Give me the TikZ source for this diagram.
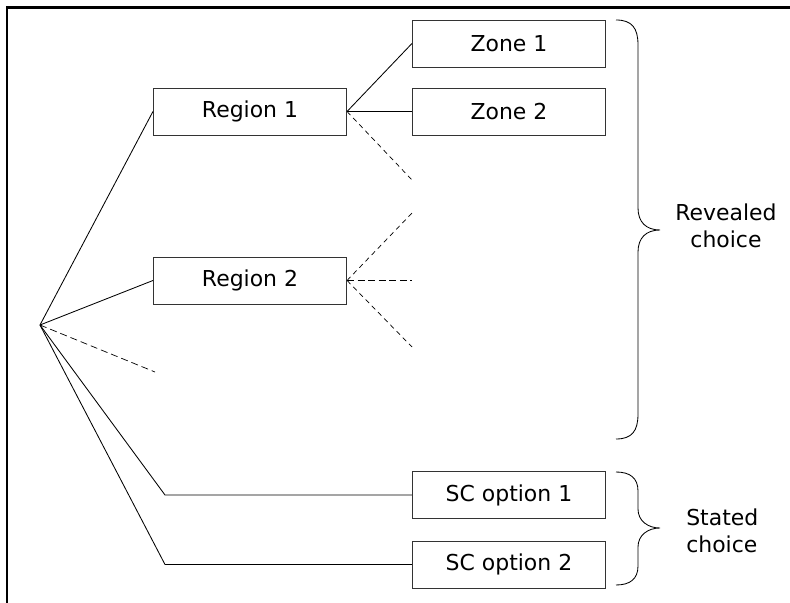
\documentclass[tikz,border=0pt]{standalone}
\usepackage{fontspec}
\setmainfont{DejaVu Sans}
\usetikzlibrary{arrows}

\begin{document}
\begin{tikzpicture}[x=0.025cm,y=-0.025cm,
  every node/.style={font=\fontsize{15.6}{19.2}\selectfont},
  box/.style={draw=black!80,line width=0.6pt,minimum width=4.83cm,minimum height=1.175cm,inner sep=0pt},
  branch/.style={line width=0.6pt},
  open/.style={line width=0.5pt,dash pattern=on 3.5pt off 2.8pt},
  brc/.style={line width=0.6pt}]
\useasboundingbox (0,0) rectangle (790,603);
\draw[line width=1.5pt] (7,603)--(7,7.5)--(790,7.5);

\coordinate (root) at (40,325);
\node[box] (Reg1) at (250,111.5) {Region 1};
\node[box] (Reg2) at (250,280.5) {Region 2};
\node[box] (Zn1) at (509,43.5) {Zone 1};
\node[box] (Zn2) at (509,111.5) {Zone 2};
\node[box] (SCa) at (509,495) {SC option 1};
\node[box] (SCb) at (509,564.5) {SC option 2};

\draw[branch] (root)--(Reg1.west);
\draw[branch] (root)--(Reg2.west);
\draw[open,dash pattern=on 5pt off 2.8pt] (root)--(155,372) coordinate (rootOpen);
\coordinate (bendA) at (165,495);
\coordinate (bendB) at (165,564.5);
\draw[branch] (root)--(bendA)--(SCa.west);
\draw[branch] (root)--(bendB)--(SCb.west);

\draw[branch] (Reg1.east)--(Zn1.west);
\draw[branch] (Reg1.east)--(Zn2.west);
\draw[open] (Reg1.east)--(412,180) coordinate (Reg1Open);
\draw[open] (Reg2.east)--(412,213) coordinate (Reg2OpenA);
\draw[open,line width=0.7pt,dash pattern=on 5pt off 2.5pt] (Reg2.east)--(412,280.5) coordinate (Reg2OpenB);
\draw[open] (Reg2.east)--(412,347) coordinate (Reg2OpenC);

\coordinate (revTop) at (616,20);
\draw[brc] (revTop) .. controls +(16,0) and +(0,-17) .. ++(22,25)
  -- ++(0,163)
  .. controls +(0,14) and +(-14,0) .. ++(22,22)
  .. controls +(-14,0) and +(0,-14) .. ++(-22,22)
  -- ++(0,162)
  .. controls +(0,17) and +(16,0) .. ++(-22,25);
\node[align=center] (Rev) at (726,226) {Revealed\\choice};

\coordinate (stTop) at (616,472);
\draw[brc] (stTop) .. controls +(14,0) and +(0,-13) .. ++(22,19)
  -- ++(0,18)
  .. controls +(0,12) and +(-12,0) .. ++(22,19)
  .. controls +(-12,0) and +(0,-12) .. ++(-22,19)
  -- ++(0,19)
  .. controls +(0,13) and +(14,0) .. ++(-22,19);
\node[align=left,anchor=west,inner sep=0pt] (Sta) at (686,531) {Stated\\choice};
\end{tikzpicture}
\end{document}
